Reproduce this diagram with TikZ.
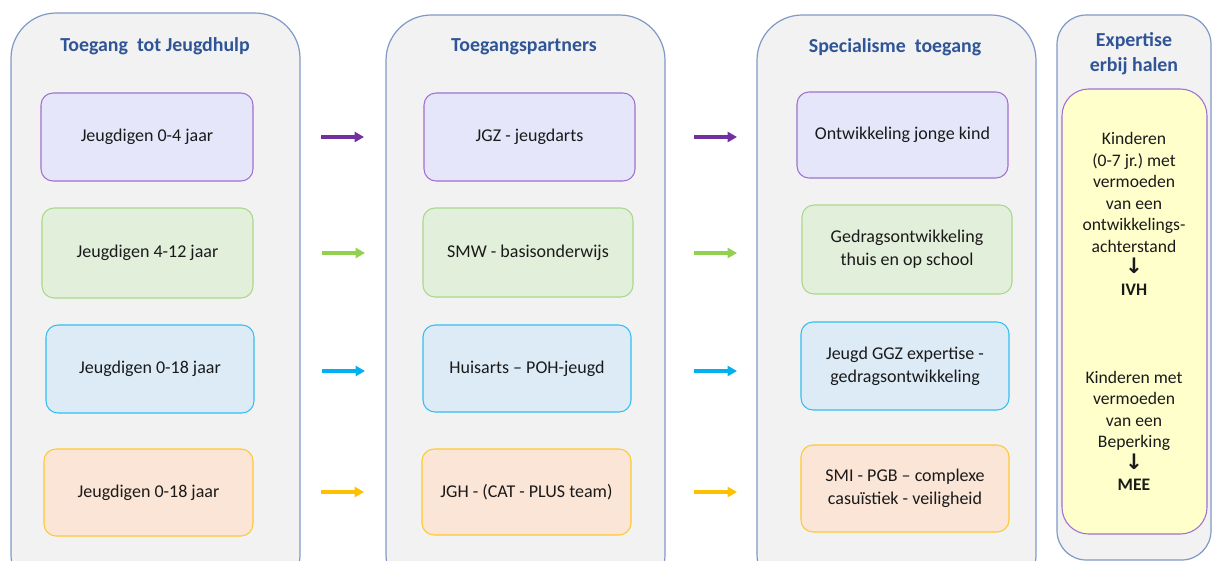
\documentclass[tikz,border=0pt]{standalone}
\usepackage{fontspec}
\setmainfont{Carlito}
\newfontfamily\symfont{DejaVu Sans}
\usetikzlibrary{arrows.meta}
\frenchspacing
\definecolor{outerfill}{HTML}{F2F2F2}
\definecolor{outerdraw}{HTML}{7F98C6}
\definecolor{titleblue}{HTML}{2F5597}
\definecolor{txt}{HTML}{1A1A1A}
\definecolor{purpD}{HTML}{A16FCF}
\definecolor{purpF}{HTML}{E6E6FA}
\definecolor{purpA}{HTML}{7030A0}
\definecolor{greenD}{HTML}{A9D88A}
\definecolor{greenF}{HTML}{E2EFDA}
\definecolor{greenA}{HTML}{92D050}
\definecolor{blueD}{HTML}{33BDF0}
\definecolor{blueF}{HTML}{DDEBF7}
\definecolor{blueA}{HTML}{00B0F0}
\definecolor{orD}{HTML}{FFC832}
\definecolor{orF}{HTML}{FBE5D6}
\definecolor{orA}{HTML}{FFC000}
\definecolor{yelF}{HTML}{FFFFCC}
\tikzset{
  colbox/.style={draw=outerdraw, fill=outerfill, line width=0.9pt, rounded corners=34pt, inner sep=0pt},
  smallcol/.style={colbox, rounded corners=22pt},
  title/.style={text=titleblue, font=\fontsize{14.9}{19}\selectfont\bfseries, align=center},
  inner/.style={rounded corners=9pt, line width=0.8pt, inner sep=2pt, text=txt, font=\fontsize{13.5}{17}\selectfont, align=center},
  purpbox/.style={inner, draw=purpD, fill=purpF},
  greenbox/.style={inner, draw=greenD, fill=greenF},
  bluebox/.style={inner, draw=blueD, fill=blueF},
  orbox/.style={inner, draw=orD, fill=orF},
  yelbox/.style={inner, draw=purpD, fill=yelF, rounded corners=20pt},
  ytext/.style={text=txt, font=\fontsize{13.2}{16.1}\selectfont, align=center, inner sep=0pt},
  arr/.style={line width=2.5pt, -{Triangle[length=7pt,width=7.5pt]}},
}
\newcommand\boxat[7]{\node[#6, minimum width={(#4-#2)*0.75pt}, minimum height={(#5-#3)*0.75pt}] (#1) at ({(#2+#4)/2},{(#3+#5)/2}) {#7};}
\newcommand\dnarrow{{\symfont\fontsize{16}{16.1}\selectfont\bfseries ↓}}
\begin{document}
\begin{tikzpicture}[x=0.75pt,y=-0.75pt]
\useasboundingbox (0,0) rectangle (1212,560);
\clip (0,0) rectangle (1212,560);
% columns
\boxat{c1}{11}{13}{300}{600}{colbox}{}
\boxat{c2}{386}{15}{665}{600}{colbox}{}
\boxat{c3}{757}{15}{1036}{600}{colbox}{}
\boxat{c4}{1057}{15}{1211}{560}{smallcol}{}
% titles
\node[title] (h1) at (155,46) {Toegang~~tot Jeugdhulp};
\node[title] (h2) at (524,47) {Toegangspartners};
\node[title] (h3) at (895,47) {Specialisme~~toegang};
\node[title] (h4) at (1134,54) {Expertise\\erbij halen};
% column 1
\boxat{a1}{41}{93}{253}{181}{purpbox}{Jeugdigen 0-4 jaar}
\boxat{a2}{42}{208}{253}{298}{greenbox}{Jeugdigen 4-12 jaar}
\boxat{a3}{46}{325}{254}{413}{bluebox}{Jeugdigen 0-18 jaar}
\boxat{a4}{44}{449}{253}{536}{orbox}{Jeugdigen 0-18 jaar}
% column 2
\boxat{b1}{424}{93}{635}{181}{purpbox}{JGZ - jeugdarts}
\boxat{b2}{423}{208}{633}{297}{greenbox}{SMW - basisonderwijs}
\boxat{b3}{423}{325}{631}{412}{bluebox}{Huisarts – POH-jeugd}
\boxat{b4}{422}{449}{631}{535}{orbox}{JGH - (CAT - PLUS team)}
% column 3
\boxat{d1}{797}{92}{1008}{178}{purpbox}{Ontwikkeling jonge kind}
\boxat{d2}{802}{205}{1012}{294}{greenbox}{Gedragsontwikkeling\\thuis en op school}
\boxat{d3}{801}{322}{1009}{410}{bluebox}{Jeugd GGZ expertise -\\gedragsontwikkeling}
\boxat{d4}{801}{445}{1009}{532}{orbox}{SMI - PGB – complexe\\casuïstiek - veiligheid}
% column 4
\boxat{e}{1062}{89}{1207}{534}{yelbox}{}
\node[ytext] (t1) at (1134,214) {Kinderen\\(0-7 jr.) met\\vermoeden\\van een\\ontwikkelings-\\achterstand\\\dnarrow\\\textbf{IVH}};
\node[ytext] (t2) at (1134,431) {Kinderen met\\vermoeden\\van een\\Beperking\\\dnarrow\\\textbf{MEE}};
% arrows
\coordinate (p1s) at (321,137); \coordinate (p1e) at (364,137);
\coordinate (q1s) at (694,137); \coordinate (q1e) at (737,137);
\coordinate (p2s) at (322,253); \coordinate (p2e) at (365,253);
\coordinate (q2s) at (694,253); \coordinate (q2e) at (737,253);
\coordinate (p3s) at (322,371); \coordinate (p3e) at (365,371);
\coordinate (q3s) at (694,371); \coordinate (q3e) at (737,371);
\coordinate (p4s) at (321,492); \coordinate (p4e) at (364,492);
\coordinate (q4s) at (694,492); \coordinate (q4e) at (737,492);
\draw[arr, purpA] (p1s) -- (p1e);
\draw[arr, purpA] (q1s) -- (q1e);
\draw[arr, greenA] (p2s) -- (p2e);
\draw[arr, greenA] (q2s) -- (q2e);
\draw[arr, blueA] (p3s) -- (p3e);
\draw[arr, blueA] (q3s) -- (q3e);
\draw[arr, orA] (p4s) -- (p4e);
\draw[arr, orA] (q4s) -- (q4e);
\end{tikzpicture}
\end{document}
